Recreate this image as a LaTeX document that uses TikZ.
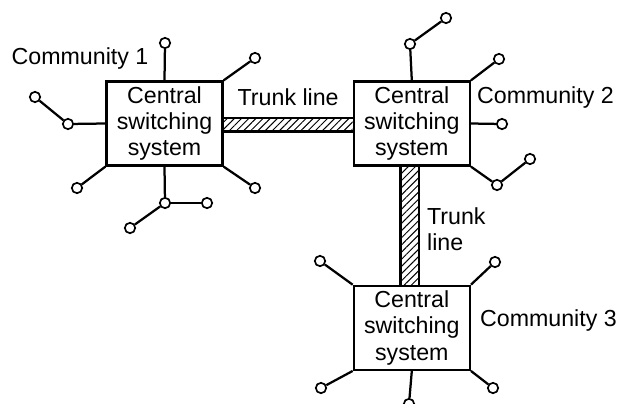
\documentclass[tikz,border=0pt]{standalone}
\usepackage{fontspec}
\setmainfont{Liberation Sans}
\usetikzlibrary{positioning, calc, patterns.meta}

\begin{document}
\begin{tikzpicture}[
    x=0.025cm, y=-0.025cm,
    font=\fontsize{16.5}{18.8}\selectfont,
    sbox/.style={
        rectangle, draw, line width=1.6pt, fill=white,
        minimum width=2.9cm, minimum height=2.1cm,
        align=center, inner sep=2pt
    },
    term/.style={
        circle, draw, line width=1.2pt, fill=white,
        minimum size=0.26cm, inner sep=0pt
    },
    wire/.style={line width=1.6pt},
    lbl/.style={inner sep=2pt, align=left},
    hatch/.style={pattern={Lines[angle=45, distance=3.6pt, line width=0.7pt]}},
]

\useasboundingbox (0,0) rectangle (624,403);

% ============================================================
% Switching systems
% ============================================================

\node[sbox] (c1) at (164.5,123.5) {Central\\switching\\system};
\node[sbox, right=3.225cm of c1] (c2) {Central\\switching\\system};
\node[sbox, below=2.95cm of c2] (c3) {Central\\switching\\system};

\node[lbl] (com1) at (80,58) {Community 1};
\node[lbl, anchor=west] (com2) at (474,97) {Community 2};
\node[lbl, anchor=west] (com3) at (477,320) {Community 3};

% ============================================================
% Trunk lines
% ============================================================

\fill[hatch] ($(c1.east)+(0,-5.5)$) rectangle ($(c2.west)+(0,8)$);
\draw[line width=0.9pt] ($(c1.east)+(0,-5.5)$) -- ($(c2.west)+(0,-5.5)$);
\draw[line width=2pt] ($(c1.east)+(0,8)$) -- ($(c2.west)+(0,8)$);
\node[lbl] (trunk12) at ($(c1.east)!0.5!(c2.west)+(0,-26)$) {Trunk line};

\fill[hatch] ($(c2.south)+(-11,0)$) rectangle ($(c3.north)+(7,0)$);
\draw[line width=2pt] ($(c2.south)+(-11,0)$) -- ($(c3.north)+(-11,0)$);
\draw[line width=1.3pt] ($(c2.south)+(7,0)$) -- ($(c3.north)+(7,0)$);
\node[lbl, anchor=west] (trunk23) at (424,229) {Trunk\\line};

% ============================================================
% Community 1 terminals
% ============================================================

\node[term] (t1n)  at (165,43)  {};
\node[term] (t1ne) at (255,58)  {};
\node[term] (t1w)  at (68,124)  {};
\node[term] (t1wx) at (35,97)   {};
\node[term] (t1sw) at (77,188)  {};
\node[term] (t1s)  at (165,203) {};
\node[term] (t1sa) at (207,203) {};
\node[term] (t1sb) at (130,228) {};
\node[term] (t1se) at (255,188) {};

\draw[wire] (c1.north) -- (t1n);
\draw[wire] (c1.north east) -- (t1ne);
\draw[wire] (c1.west) -- (t1w);
\draw[wire] (t1w) -- (t1wx);
\draw[wire] (c1.south west) -- (t1sw);
\draw[wire] (c1.south) -- (t1s);
\draw[wire] (t1s) -- (t1sa);
\draw[wire] (t1s) -- (t1sb);
\draw[wire] (c1.south east) -- (t1se);

% ============================================================
% Community 2 terminals
% ============================================================

\node[term] (t2n)  at (410,44)  {};
\node[term] (t2nx) at (446,18)  {};
\node[term] (t2ne) at (499,59)  {};
\node[term] (t2e)  at (502,124) {};
\node[term] (t2se) at (497,185) {};
\node[term] (t2sx) at (530,159) {};

\draw[wire] (c2.north) -- (t2n);
\draw[wire] (t2n) -- (t2nx);
\draw[wire] (c2.north east) -- (t2ne);
\draw[wire] (c2.east) -- (t2e);
\draw[wire] (c2.south east) -- (t2se);
\draw[wire] (t2se) -- (t2sx);

% ============================================================
% Community 3 terminals
% ============================================================

\node[term] (t3nw) at (320,261) {};
\node[term] (t3ne) at (495,262) {};
\node[term] (t3sw) at (321,388) {};
\node[term] (t3s)  at (409,404) {};
\node[term] (t3se) at (493,388) {};

\draw[wire] (c3.north west) -- (t3nw);
\draw[wire] (c3.north east) -- (t3ne);
\draw[wire] (c3.south west) -- (t3sw);
\draw[wire] (c3.south) -- (t3s);
\draw[wire] (c3.south east) -- (t3se);

\end{tikzpicture}
\end{document}
